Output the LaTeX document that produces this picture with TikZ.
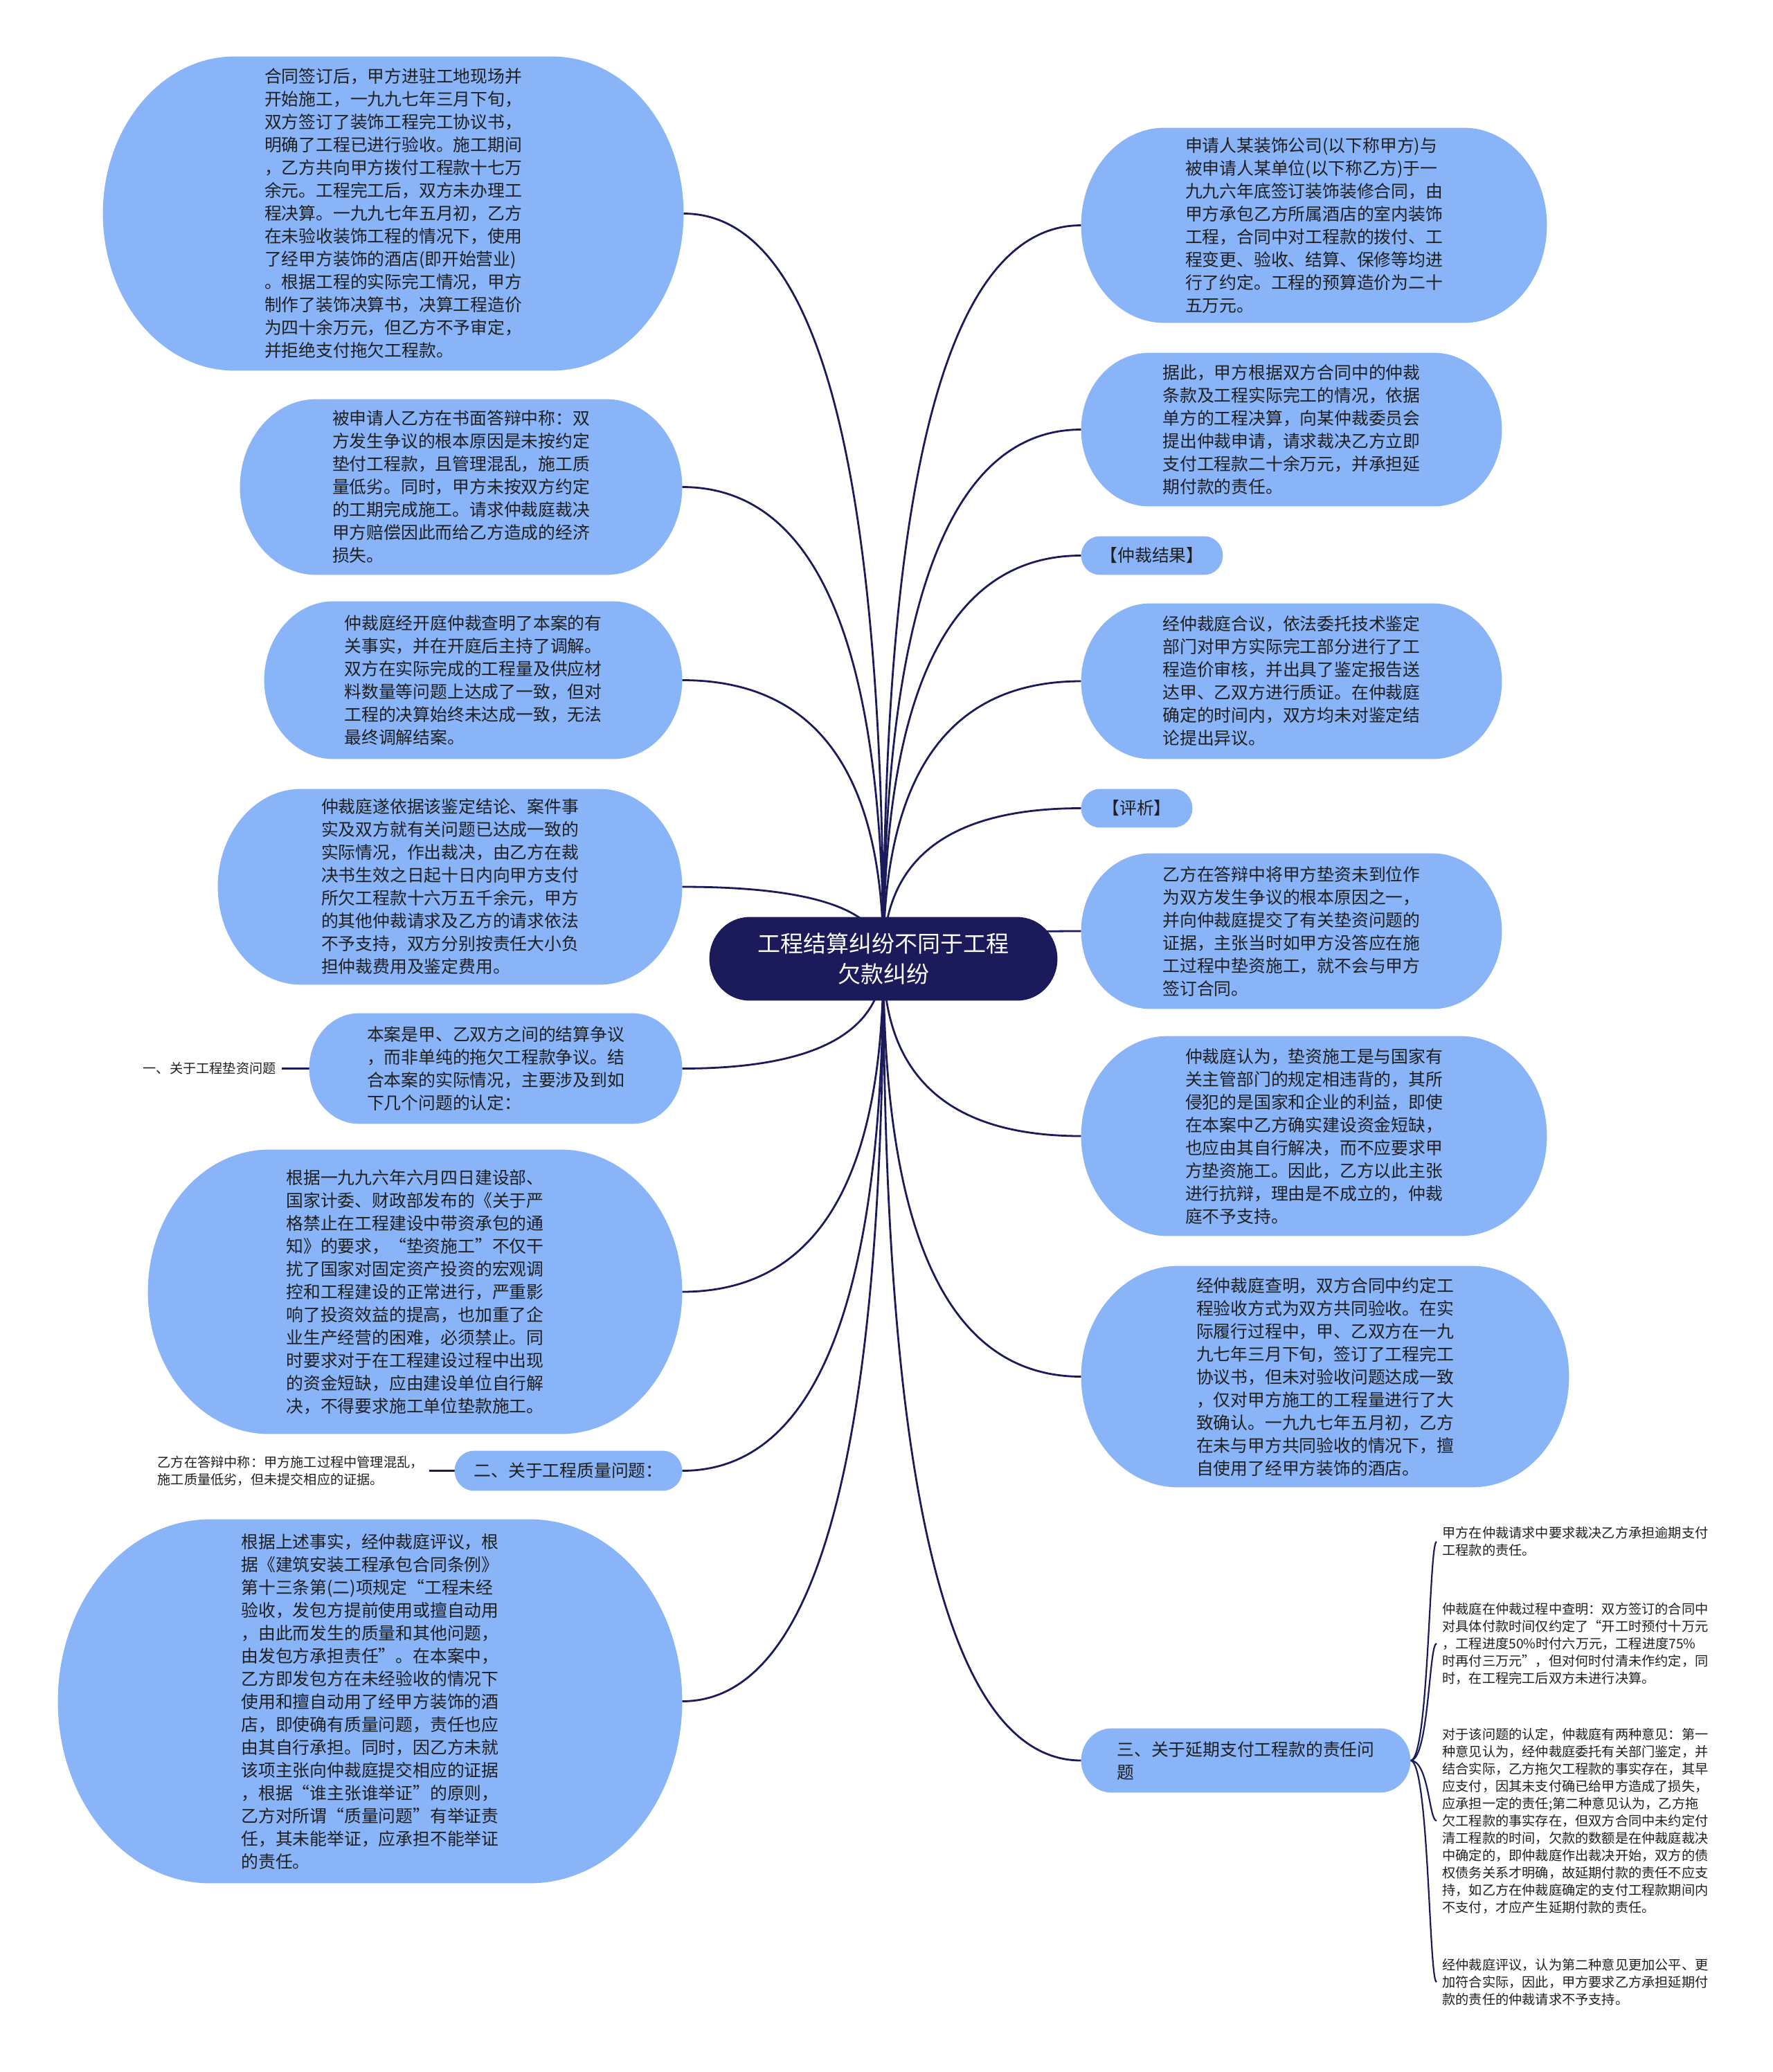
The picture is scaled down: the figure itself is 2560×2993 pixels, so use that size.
\documentclass[tikz,border=0pt]{standalone}
\usepackage{fontspec}
\setmainfont{Noto Sans CJK SC}
\usetikzlibrary{calc}
\pgfdeclarelayer{edgelayer}
\pgfdeclarelayer{background}
\pgfsetlayers{edgelayer,background,main}
\definecolor{navy}{HTML}{1B1A5B}
\definecolor{pillblue}{HTML}{8AB4F8}
\definecolor{ink}{HTML}{1F1F1F}
\tikzset{
  body/.style={rectangle, inner sep=0pt, align=left, text=ink,
    font=\fontsize{12.4pt}{16.5pt}\selectfont},
  smalltext/.style={rectangle, inner sep=4pt, align=left, text=ink,
    font=\fontsize{9.6pt}{12.5pt}\selectfont},
  rootstyle/.style={rectangle, inner sep=0pt, align=center, text=white,
    font=\fontsize{16.5pt}{22pt}\selectfont},
  edge/.style={draw=navy, line width=1.4pt},
  subedge/.style={draw=navy, line width=1.1pt},
}
% elliptical-ended pill behind a named node; #3 = corner x radius in px
\newcommand\pillbg[3][pillblue]{%
  \fill[#1] let \p1=(#2.north west), \p2=(#2.south east),
    \n1={(\y1-\y2)/2}, \n2={#3*0.5pt} in
    (\x1+\n2,\y1) -- (\x2-\n2,\y1)
    arc[start angle=90,end angle=-90,x radius=\n2,y radius=\n1]
    -- (\x1+\n2,\y2)
    arc[start angle=270,end angle=90,x radius=\n2,y radius=\n1] -- cycle;
}
\begin{document}
\begin{tikzpicture}[x=0.5pt,y=0.5pt]
\useasboundingbox (0,0) rectangle (2560,-2993);

% ---------- root ----------
\node[rootstyle, minimum width=251pt, minimum height=60pt] (root) at (1276,-1385)
  {工程结算纠纷不同于工程\\欠款纠纷};

% ---------- left side ----------
\node[body, minimum width=419pt, minimum height=226.5pt] (N1) at (568,-308.5)
  {合同签订后，甲方进驻工地现场并\\开始施工，一九九七年三月下旬，\\双方签订了装饰工程完工协议书，\\明确了工程已进行验收。施工期间\\，乙方共向甲方拨付工程款十七万\\余元。工程完工后，双方未办理工\\程决算。一九九七年五月初，乙方\\在未验收装饰工程的情况下，使用\\了经甲方装饰的酒店(即开始营业)\\。根据工程的实际完工情况，甲方\\制作了装饰决算书，决算工程造价\\为四十余万元，但乙方不予审定，\\并拒绝支付拖欠工程款。};
\node[body, minimum width=319pt, minimum height=126.5pt] (N2) at (666,-703.5)
  {被申请人乙方在书面答辩中称：双\\方发生争议的根本原因是未按约定\\垫付工程款，且管理混乱，施工质\\量低劣。同时，甲方未按双方约定\\的工期完成施工。请求仲裁庭裁决\\甲方赔偿因此而给乙方造成的经济\\损失。};
\node[body, minimum width=301.5pt, minimum height=113.5pt] (N3) at (683.5,-982.5)
  {仲裁庭经开庭仲裁查明了本案的有\\关事实，并在开庭后主持了调解。\\双方在实际完成的工程量及供应材\\料数量等问题上达成了一致，但对\\工程的决算始终未达成一致，无法\\最终调解结案。};
\node[body, minimum width=335pt, minimum height=141pt] (N4) at (650,-1281)
  {仲裁庭遂依据该鉴定结论、案件事\\实及双方就有关问题已达成一致的\\实际情况，作出裁决，由乙方在裁\\决书生效之日起十日内向甲方支付\\所欠工程款十六万五千余元，甲方\\的其他仲裁请求及乙方的请求依法\\不予支持，双方分别按责任大小负\\担仲裁费用及鉴定费用。};
\node[body, minimum width=269pt, minimum height=79.5pt] (N5) at (716,-1543.5)
  {本案是甲、乙双方之间的结算争议\\，而非单纯的拖欠工程款争议。结\\合本案的实际情况，主要涉及到如\\下几个问题的认定：};
\node[smalltext, anchor=east] (N5a) at (407,-1543.5) {一、关于工程垫资问题};
\node[body, minimum width=385.5pt, minimum height=205pt] (N6) at (599.5,-1866)
  {根据一九九六年六月四日建设部、\\国家计委、财政部发布的《关于严\\格禁止在工程建设中带资承包的通\\知》的要求，“垫资施工”不仅干\\扰了国家对固定资产投资的宏观调\\控和工程建设的正常进行，严重影\\响了投资效益的提高，也加重了企\\业生产经营的困难，必须禁止。同\\时要求对于在工程建设过程中出现\\的资金短缺，应由建设单位自行解\\决，不得要求施工单位垫款施工。};
\node[body, minimum width=164pt, minimum height=28.5pt] (N7) at (821,-2124.5)
  {二、关于工程质量问题：};
\node[smalltext, anchor=east] (N7a) at (620,-2124.5)
  {乙方在答辩中称：甲方施工过程中管理混乱，\\施工质量低劣，但未提交相应的证据。};
\node[body, minimum width=450.5pt, minimum height=262.5pt] (N8) at (534.5,-2457.5)
  {根据上述事实，经仲裁庭评议，根\\据《建筑安装工程承包合同条例》\\第十三条第(二)项规定“工程未经\\验收，发包方提前使用或擅自动用\\，由此而发生的质量和其他问题，\\由发包方承担责任”。在本案中，\\乙方即发包方在未经验收的情况下\\使用和擅自动用了经甲方装饰的酒\\店，即使确有质量问题，责任也应\\由其自行承担。同时，因乙方未就\\该项主张向仲裁庭提交相应的证据\\，根据“谁主张谁举证”的原则，\\乙方对所谓“质量问题”有举证责\\任，其未能举证，应承担不能举证\\的责任。};

% ---------- right side ----------
\node[body, minimum width=336pt, minimum height=140.5pt] (R1) at (1898,-325.5)
  {申请人某装饰公司(以下称甲方)与\\被申请人某单位(以下称乙方)于一\\九九六年底签订装饰装修合同，由\\甲方承包乙方所属酒店的室内装饰\\工程，合同中对工程款的拨付、工\\程变更、验收、结算、保修等均进\\行了约定。工程的预算造价为二十\\五万元。};
\node[body, minimum width=303.5pt, minimum height=110.5pt] (R2) at (1865.5,-620.5)
  {据此，甲方根据双方合同中的仲裁\\条款及工程实际完工的情况，依据\\单方的工程决算，向某仲裁委员会\\提出仲裁申请，请求裁决乙方立即\\支付工程款二十余万元，并承担延\\期付款的责任。};
\node[body, minimum width=102pt, minimum height=27.5pt] (R3) at (1664,-802.5)
  {【仲裁结果】};
\node[body, minimum width=303.5pt, minimum height=112pt] (R4) at (1865.5,-984)
  {经仲裁庭合议，依法委托技术鉴定\\部门对甲方实际完工部分进行了工\\程造价审核，并出具了鉴定报告送\\达甲、乙双方进行质证。在仲裁庭\\确定的时间内，双方均未对鉴定结\\论提出异议。};
\node[body, minimum width=80pt, minimum height=27.5pt] (R5) at (1642,-1167.5)
  {【评析】};
\node[body, minimum width=303.5pt, minimum height=112pt] (R6) at (1865.5,-1345)
  {乙方在答辩中将甲方垫资未到位作\\为双方发生争议的根本原因之一，\\并向仲裁庭提交了有关垫资问题的\\证据，主张当时如甲方没答应在施\\工过程中垫资施工，就不会与甲方\\签订合同。};
\node[body, minimum width=336pt, minimum height=144pt] (R7) at (1898,-1641)
  {仲裁庭认为，垫资施工是与国家有\\关主管部门的规定相违背的，其所\\侵犯的是国家和企业的利益，即使\\在本案中乙方确实建设资金短缺，\\也应由其自行解决，而不应要求甲\\方垫资施工。因此，乙方以此主张\\进行抗辩，理由是不成立的，仲裁\\庭不予支持。};
\node[body, minimum width=352pt, minimum height=159.5pt] (R8) at (1914,-1988.5)
  {经仲裁庭查明，双方合同中约定工\\程验收方式为双方共同验收。在实\\际履行过程中，甲、乙双方在一九\\九七年三月下旬，签订了工程完工\\协议书，但未对验收问题达成一致\\，仅对甲方施工的工程量进行了大\\致确认。一九九七年五月初，乙方\\在未与甲方共同验收的情况下，擅\\自使用了经甲方装饰的酒店。};
\node[body, minimum width=237.5pt, minimum height=46pt] (R9) at (1799.5,-2543)
  {三、关于延期支付工程款的责任问\\题};

\node[smalltext, anchor=west] (c1) at (2075,-2227)
  {甲方在仲裁请求中要求裁决乙方承担逾期支付\\工程款的责任。};
\node[smalltext, anchor=west] (c2) at (2075,-2374)
  {仲裁庭在仲裁过程中查明：双方签订的合同中\\对具体付款时间仅约定了“开工时预付十万元\\，工程进度50\%时付六万元，工程进度75\%\\时再付三万元”，但对何时付清未作约定，同\\时，在工程完工后双方未进行决算。};
\node[smalltext, anchor=west] (c3) at (2075,-2630)
  {对于该问题的认定，仲裁庭有两种意见：第一\\种意见认为，经仲裁庭委托有关部门鉴定，并\\结合实际，乙方拖欠工程款的事实存在，其早\\应支付，因其未支付确已给甲方造成了损失，\\应承担一定的责任;第二种意见认为，乙方拖\\欠工程款的事实存在，但双方合同中未约定付\\清工程款的时间，欠款的数额是在仲裁庭裁决\\中确定的，即仲裁庭作出裁决开始，双方的债\\权债务关系才明确，故延期付款的责任不应支\\持，如乙方在仲裁庭确定的支付工程款期间内\\不支付，才应产生延期付款的责任。};
\node[smalltext, anchor=west] (c4) at (2075,-2863)
  {经仲裁庭评议，认为第二种意见更加公平、更\\加符合实际，因此，甲方要求乙方承担延期付\\款的责任的仲裁请求不予支持。};

% ---------- pills ----------
\begin{pgfonlayer}{background}
  \pillbg[navy]{root}{58}
  \pillbg{N1}{190}
  \pillbg{N2}{110}
  \pillbg{N3}{100}
  \pillbg{N4}{120}
  \pillbg{N5}{72}
  \pillbg{N6}{175}
  \pillbg{N7}{28}
  \pillbg{N8}{220}
  \pillbg{R1}{120}
  \pillbg{R2}{98}
  \pillbg{R3}{27}
  \pillbg{R4}{100}
  \pillbg{R5}{27}
  \pillbg{R6}{100}
  \pillbg{R7}{125}
  \pillbg{R8}{140}
  \pillbg{R9}{44}
\end{pgfonlayer}

% ---------- connectors (quadratic curves with corner control) ----------
\begin{pgfonlayer}{edgelayer}
  \foreach \nm in {N1,N2,N3,N4,N5,N6,N7,N8}
    \draw[edge] (root.center)
      .. controls ($(root.center)!0.667!(root.center |- \nm.east)$)
         and ($(\nm.east)!0.667!(root.center |- \nm.east)$) .. (\nm.east);
  \foreach \nm in {R1,R2,R3,R4,R5,R6,R7,R8,R9}
    \draw[edge] (root.center)
      .. controls ($(root.center)!0.667!(root.center |- \nm.west)$)
         and ($(\nm.west)!0.667!(root.center |- \nm.west)$) .. (\nm.west);
  \draw[subedge] (N5.west) -- (N5a.east);
  \draw[subedge] (N7.west) -- (N7a.east);
  \coordinate (br) at (2064,-2543);
  \foreach \cc in {c1,c2,c3,c4}
    \draw[subedge] (R9.east) .. controls (br) and (br |- \cc.west) .. (\cc.west);
\end{pgfonlayer}
\end{tikzpicture}
\end{document}
